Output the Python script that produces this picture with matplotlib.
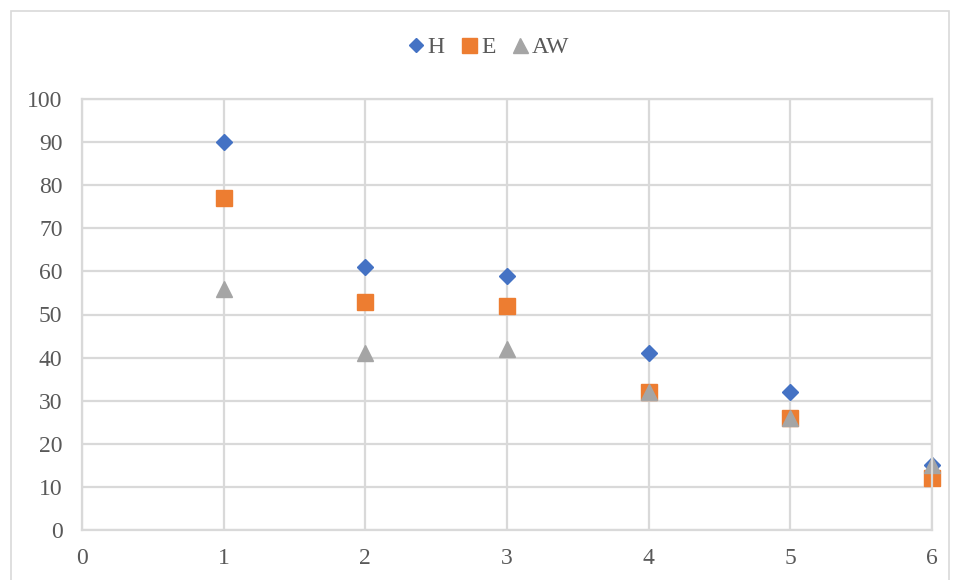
import matplotlib.pyplot as plt
from matplotlib.patches import Rectangle

plt.rcParams['font.family'] = ['Liberation Serif', 'DejaVu Serif']

x = [1, 2, 3, 4, 5, 6]
h_vals = [90, 61, 59, 41, 32, 15]
e_vals = [77, 53, 52, 32, 26, 12]
aw_vals = [56, 41, 42, 32, 26, 15]

text_col = '#595959'
grid_col = '#d9d9d9'

fig = plt.figure(figsize=(9.56, 5.8), dpi=100)
ax = fig.add_axes([82 / 956, 50 / 580, 850 / 956, 431 / 580])

ax.plot(x, h_vals, linestyle='none', marker='D', ms=8, color='#4472c4', label='H')
ax.plot(x, e_vals, linestyle='none', marker='s', ms=12, color='#ed7d31', label='E')
ax.plot(x, aw_vals, linestyle='none', marker='^', ms=12, color='#a5a5a5', label='AW')

ax.set_xlim(0, 6)
ax.set_ylim(0, 100)
ax.set_xticks(range(0, 7))
ax.set_yticks(range(0, 101, 10))
ax.grid(True, color=grid_col, linewidth=1.6)
ax.set_axisbelow(True)
for s in ax.spines.values():
    s.set_color(grid_col)
    s.set_linewidth(1.6)
ax.tick_params(length=0, labelsize=17, labelcolor=text_col)
ax.tick_params(axis='x', pad=13)
ax.tick_params(axis='y', pad=14)

for line in ax.lines:
    line.set_clip_on(False)

fig.legend(loc='center', bbox_to_anchor=(488 / 956, 1 - 47 / 580), ncol=3,
           frameon=False, fontsize=17, handletextpad=0.1, columnspacing=0.65,
           handlelength=0.8, markerscale=0.9, labelcolor=text_col)

# chart area border
fig.patches.append(Rectangle((11 / 956, -0.05), 938 / 956, 1.05 - 11 / 580,
                             transform=fig.transFigure, fill=False,
                             edgecolor=grid_col, linewidth=1.2))

fig.savefig('out.png', dpi=100)
